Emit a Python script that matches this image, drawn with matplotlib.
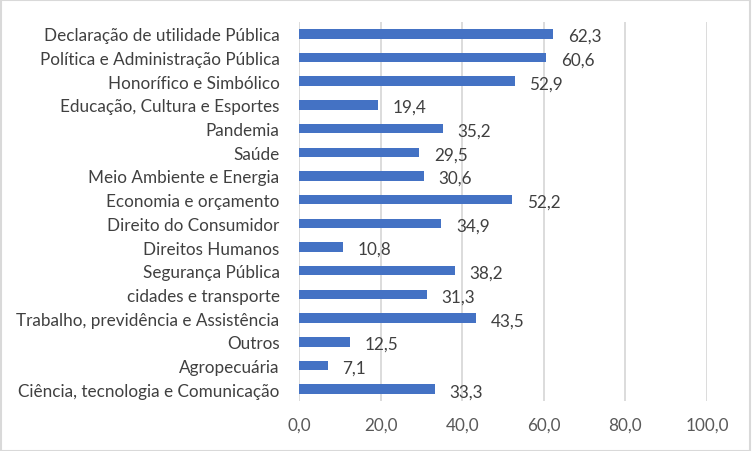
import matplotlib
matplotlib.use("Agg")
import matplotlib.pyplot as plt
from matplotlib.patches import Rectangle

categories = [
    "Declaração de utilidade Pública",
    "Política e Administração Pública",
    "Honorífico e Simbólico",
    "Educação, Cultura e Esportes",
    "Pandemia",
    "Saúde",
    "Meio Ambiente e Energia",
    "Economia e orçamento",
    "Direito do Consumidor",
    "Direitos Humanos",
    "Segurança Pública",
    "cidades e transporte",
    "Trabalho, previdência e Assistência",
    "Outros",
    "Agropecuária",
    "Ciência, tecnologia e Comunicação",
]
values = [62.3, 60.6, 52.9, 19.4, 35.2, 29.5, 30.6, 52.2, 34.9, 10.8, 38.2, 31.3, 43.5, 12.5, 7.1, 33.3]
xticks = [0, 20, 40, 60, 80, 100]

plt.rcParams['font.family'] = ['Lato', 'DejaVu Sans']
fs = 12.3

fig = plt.figure(figsize=(7.52, 4.52), dpi=100)
ax = fig.add_axes([299/752, 1-402/452, (707-299)/752, (402-23)/452])

ypos = list(range(len(categories)))[::-1]
ax.barh(ypos, values, height=0.4, color='#4472C4', zorder=3)
for y, v in zip(ypos, values):
    ax.annotate(f"{v:.1f}".replace('.', ','), (v, y), xytext=(10.5, -1.5), textcoords='offset points',
                va='center', ha='left', fontsize=fs, color='#404040')

ax.set_xlim(0, 100)
ax.set_ylim(-0.5, len(categories) - 0.5)
ax.set_xticks(xticks)
ax.set_xticklabels([f"{t:.1f}".replace('.', ',') for t in xticks], fontsize=fs, color='#595959')
ax.set_yticks(ypos)
ax.set_yticklabels(categories, fontsize=fs, color='#404040')
ax.tick_params(axis='y', length=0, pad=14)
ax.tick_params(axis='x', length=0, pad=11)
ax.grid(axis='x', color='#D9D9D9', linewidth=1.3, zorder=0)
for s in ax.spines.values():
    s.set_visible(False)

fig.patches.append(Rectangle((0.001, 0.001), 0.997, 0.997, transform=fig.transFigure,
                             fill=False, edgecolor='#D9D9D9', linewidth=1.5))

fig.savefig('out.png', dpi=100)
